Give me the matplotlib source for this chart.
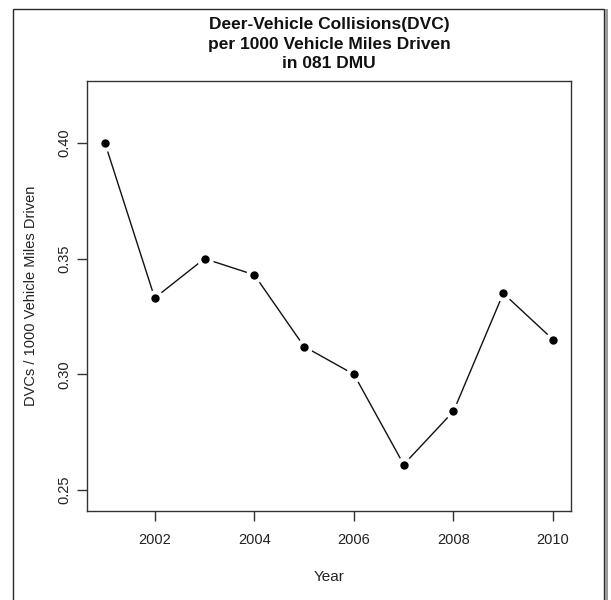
""" deer-vehicle collision rate per year, R-style base plot """
import matplotlib
matplotlib.use('Agg')
import matplotlib.pyplot as plt
from matplotlib.patches import Rectangle

plt.rcParams['font.family'] = ['Liberation Sans', 'DejaVu Sans']

years = [2001, 2002, 2003, 2004, 2005, 2006, 2007, 2008, 2009, 2010]
dvc_rate = [0.400, 0.333, 0.350, 0.343, 0.312, 0.300, 0.261, 0.284, 0.335, 0.315]

x_ticks = [2002, 2004, 2006, 2008, 2010]
y_ticks = [0.25, 0.30, 0.35, 0.40]
y_tick_labels = ['0.25', '0.30', '0.35', '0.40']

title = "Deer-Vehicle Collisions(DVC)\nper 1000 Vehicle Miles Driven\nin 081 DMU"

W, H = 611, 600
fig = plt.figure(figsize=(W / 100, H / 100), dpi=100)

# frame round the whole device, with a grey shadow on the right
fig.patches.append(Rectangle((13 / W, -0.01), 591 / W, (H - 9) / H + 0.01,
                             transform=fig.transFigure, fill=False,
                             edgecolor='#2a2a2a', lw=1.0))
fig.patches.append(Rectangle((605 / W, -0.01), 3 / W, (H - 9) / H + 0.01,
                             transform=fig.transFigure, color='#9a9a9a', lw=0))

ax = fig.add_axes([87 / W, (H - 511) / H, 484 / W, 430 / H])

# type="b": line broken around each point
ax.plot(years, dvc_rate, color='#111111', lw=1.0, zorder=2)
ax.plot(years, dvc_rate, 'o', ms=11, color='white', mec='white', zorder=3)
ax.plot(years, dvc_rate, 'o', ms=5.0, color='black', zorder=4)

ax.set_xlim(2000.64, 2010.36)
ax.set_ylim(0.2409, 0.4268)

ax.set_xticks(x_ticks)
ax.set_xticklabels([str(y) for y in x_ticks])
ax.set_yticks(y_ticks)
ax.set_yticklabels(y_tick_labels, rotation=90, va='center')

ax.tick_params(axis='both', direction='out', length=7.5, width=1.0,
               color='#333333', labelcolor='#222222', labelsize=10.5)
ax.tick_params(axis='x', pad=8)
ax.tick_params(axis='y', pad=4)

for s in ax.spines.values():
    s.set_color('#333333')
    s.set_linewidth(1.0)

ax.set_xlabel('Year', fontsize=11, color='#222222', labelpad=17)
ax.set_ylabel('DVCs / 1000 Vehicle Miles Driven', fontsize=10.5,
              color='#222222', labelpad=14)

fig.text(329 / W, 1 - 44 / H, title, ha='center', va='center',
         fontsize=12.5, fontweight='bold', linespacing=1.34, color='#111111')

fig.savefig('out.png', dpi=100, facecolor='white')
